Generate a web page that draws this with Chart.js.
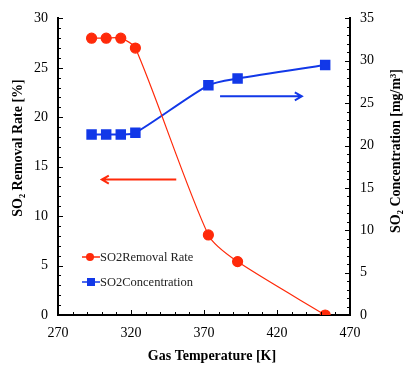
<!DOCTYPE html>
<html>
<head>
<meta charset="utf-8">
<script src="https://cdn.jsdelivr.net/npm/chart.js@4.4.0/dist/chart.umd.min.js"></script>
<style>
  html, body { margin: 0; padding: 0; background: #fff; }
  #wrap { width: 403px; height: 370px; }
</style>
</head>
<body>
<div id="wrap"><canvas id="myChart"></canvas></div>
<script>
// values
const temps = [293, 303, 313, 323, 373, 393, 453];
const removalRate = [28, 28, 28, 27, 8.1, 5.4, 0];
const concentration = [21.3, 21.3, 21.3, 21.5, 27.1, 27.9, 29.5];
const seriesNames = ['SO2Removal Rate', 'SO2Concentration'];
const xTitle = 'Gas Temperature [K]';
const yLeftTitle = 'SO\u2082 Removal Rate [%]';
const yRightTitle = 'SO\u2082 Concentration [mg/m\u00B3]';
// arrows: [x start, x end, y] in data units (left axis for red, right axis for blue)
const redArrow = [351, 300, 13.7];
const blueArrow = [381, 437, 25.8];

const RED = '#ff2a0a';
const BLUE = '#1238e8';
const SERIF = '"Liberation Serif", "Times New Roman", serif';

function pts(ys) {
  return temps.map(function (t, i) { return { x: t, y: ys[i] }; });
}

// ticks pointing into the plot, plus axis titles and arrows
const extras = {
  id: 'extras',
  afterDraw: function (chart) {
    const ctx = chart.ctx;
    const a = chart.chartArea;
    const sx = chart.scales.x, yl = chart.scales.y, yr = chart.scales.y2;
    ctx.save();
    ctx.strokeStyle = '#000';
    ctx.lineWidth = 1;
    ctx.beginPath();
    for (let v = 270; v <= 470; v += 10) {
      const px = Math.round(sx.getPixelForValue(v)) + 0.5;
      const len = v % 50 === 20 ? 5 : 3;
      ctx.moveTo(px, a.bottom); ctx.lineTo(px, a.bottom - len);
    }
    for (let v = 0; v <= 30; v++) {
      const py = Math.round(yl.getPixelForValue(v)) + 0.5;
      const len = v % 5 === 0 ? 5 : 3;
      ctx.moveTo(a.left, py); ctx.lineTo(a.left + len, py);
    }
    for (let v = 0; v <= 35; v++) {
      const py = Math.round(yr.getPixelForValue(v)) + 0.5;
      const len = v % 5 === 0 ? 5 : 3;
      ctx.moveTo(a.right, py); ctx.lineTo(a.right - len, py);
    }
    ctx.stroke();

    // arrows
    function arrow(x1, x2, y, col, w) {
      ctx.strokeStyle = col;
      ctx.lineWidth = w;
      ctx.beginPath();
      ctx.moveTo(x1, y); ctx.lineTo(x2, y);
      const d = x2 > x1 ? -1 : 1;
      ctx.moveTo(x2 + d * 7, y - 4); ctx.lineTo(x2, y); ctx.lineTo(x2 + d * 7, y + 4);
      ctx.stroke();
    }
    arrow(sx.getPixelForValue(redArrow[0]), sx.getPixelForValue(redArrow[1]),
      yl.getPixelForValue(redArrow[2]), RED, 2);
    arrow(sx.getPixelForValue(blueArrow[0]), sx.getPixelForValue(blueArrow[1]),
      yr.getPixelForValue(blueArrow[2]), BLUE, 2);

    // axis titles
    ctx.fillStyle = '#000';
    ctx.font = 'bold 14px ' + SERIF;
    ctx.textAlign = 'center';
    ctx.textBaseline = 'middle';
    ctx.fillText(xTitle, 212, 356);
    ctx.save();
    ctx.translate(18, 148);
    ctx.rotate(-Math.PI / 2);
    ctx.fillText(yLeftTitle, 0, 0);
    ctx.restore();
    ctx.save();
    ctx.translate(396, 151);
    ctx.rotate(-Math.PI / 2);
    ctx.fillText(yRightTitle, 0, 0);
    ctx.restore();

    // legend inside the plot
    ctx.font = '12.5px ' + SERIF;
    ctx.textAlign = 'left';
    chart.data.datasets.forEach(function (ds, i) {
      const y = 257 + i * 25;
      ctx.strokeStyle = ds.borderColor;
      ctx.lineWidth = 1.5;
      ctx.beginPath();
      ctx.moveTo(82, y); ctx.lineTo(100, y);
      ctx.stroke();
      ctx.fillStyle = ds.pointBackgroundColor;
      if (ds.pointStyle === 'rect') {
        ctx.fillRect(87, y - 4, 8, 8);
      } else {
        ctx.beginPath();
        ctx.arc(90, y, 4, 0, Math.PI * 2);
        ctx.fill();
      }
      ctx.fillStyle = '#222';
      ctx.fillText(ds.label, 100, y + 1);
    });
    ctx.restore();
  }
};

const ctx = document.getElementById('myChart').getContext('2d');
const config = {
  type: 'line',
  data: {
    datasets: [{
      label: seriesNames[0],
      data: pts(removalRate),
      yAxisID: 'y',
      borderColor: RED,
      borderWidth: 1.2,
      pointBackgroundColor: RED,
      pointBorderColor: RED,
      pointStyle: 'circle',
      pointRadius: 5,
      tension: 0.25,
      fill: false
    }, {
      label: seriesNames[1],
      data: pts(concentration),
      yAxisID: 'y2',
      borderColor: BLUE,
      borderWidth: 2,
      pointBackgroundColor: BLUE,
      pointBorderColor: BLUE,
      pointStyle: 'rect',
      pointRadius: 6,
      tension: 0.25,
      fill: false
    }]
  },
  options: {
    responsive: true,
    maintainAspectRatio: false,
    animation: false,
    devicePixelRatio: 1,
    layout: { padding: { top: 14, left: 0, right: 0, bottom: 0 } },
    plugins: { legend: { display: false }, tooltip: { enabled: false } },
    scales: {
      x: {
        type: 'linear',
        min: 270, max: 470,
        afterFit: function (s) { s.height = 55; },
        ticks: { stepSize: 50, padding: 10, color: '#000', font: { family: SERIF, size: 14 } },
        grid: { display: false, drawTicks: false },
        border: { color: '#000', width: 2 }
      },
      y: {
        position: 'left',
        min: 0, max: 30,
        afterFit: function (s) { s.width = 58; },
        ticks: { stepSize: 5, padding: 10, color: '#000', font: { family: SERIF, size: 14 } },
        grid: { display: false, drawTicks: false },
        border: { color: '#000', width: 2 }
      },
      y2: {
        position: 'right',
        min: 0, max: 35,
        afterFit: function (s) { s.width = 53; },
        ticks: { stepSize: 5, padding: 10, color: '#000', font: { family: SERIF, size: 14 } },
        grid: { display: false, drawTicks: false },
        border: { color: '#000', width: 2 }
      }
    }
  },
  plugins: [extras]
};
const myChart = new Chart(ctx, config);
</script>
</body>
</html>
